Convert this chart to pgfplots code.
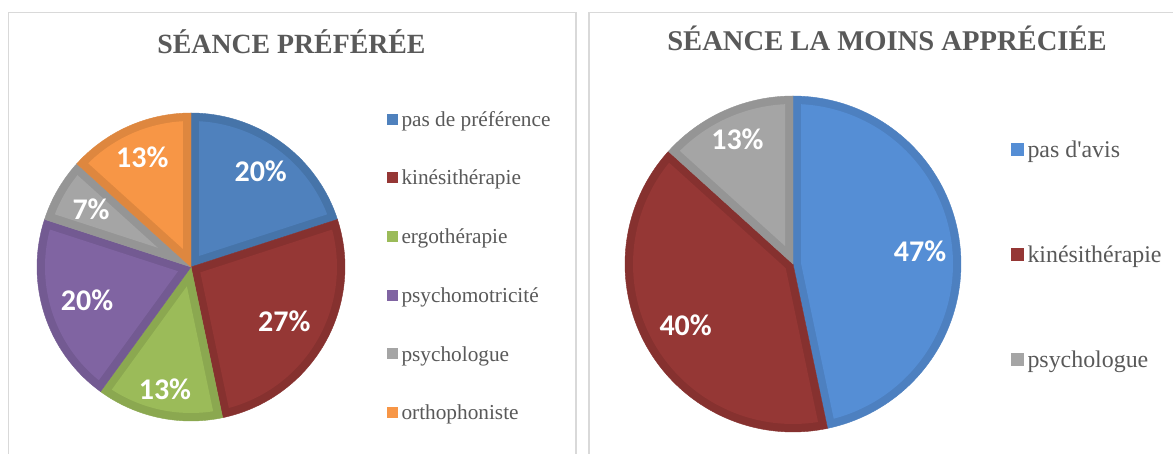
\documentclass[border=0pt]{standalone}
\usepackage{fontspec}
\setmainfont{Liberation Serif}
\newfontfamily\lblfont{Carlito}
\usepackage{pgfplots}
\pgfplotsset{compat=1.18}

\definecolor{txtgray}{HTML}{595959}
\definecolor{framegray}{HTML}{D9D9D9}
\definecolor{pblue}{HTML}{4F81BD}\definecolor{pblueD}{HTML}{4674A9}
\definecolor{pred}{HTML}{953735}\definecolor{predD}{HTML}{86312F}
\definecolor{pgreen}{HTML}{9BBB59}\definecolor{pgreenD}{HTML}{8BA850}
\definecolor{ppurple}{HTML}{8064A2}\definecolor{ppurpleD}{HTML}{735A92}
\definecolor{pgray}{HTML}{A5A5A5}\definecolor{pgrayD}{HTML}{959595}
\definecolor{porange}{HTML}{F79646}\definecolor{porangeD}{HTML}{DE873F}
\definecolor{qblue}{HTML}{558ED5}\definecolor{qblueD}{HTML}{4D80C0}

% running total of the pie, in percent
\gdef\cum{0}
\newcommand\band{0.052}
% value (%), fill, band colour, label, label radius
\newcommand\slice[5]{%
  \pgfmathsetmacro\aS{90-3.6*\cum}%
  \pgfmathsetmacro\newcum{\cum+#1}%
  \xdef\cum{\newcum}%
  \pgfmathsetmacro\aE{90-3.6*\cum}%
  \pgfmathsetmacro\rr{1-\band}%
  \pgfmathsetmacro\da{asin(\band/\rr)}%
  \pgfmathsetmacro\dS{\aS-\da}%
  \pgfmathsetmacro\dE{\aE+\da}%
  \pgfmathsetmacro\am{(\aS+\aE)/2}%
  \pgfmathsetmacro\ap{\band/sin((\aS-\aE)/2)}%
  \pgfmathsetmacro\apx{\ap*cos(\am)}%
  \pgfmathsetmacro\apy{\ap*sin(\am)}%
  \pgfmathsetmacro\lx{#5*cos(\am)}%
  \pgfmathsetmacro\ly{#5*sin(\am)}%
  \edef\doit{%
    \noexpand\addplot[fill=#3, draw=#3, line width=0.4pt, domain=\aE:\aS, samples=90, forget plot]
      ({cos(x)}, {sin(x)}) -- (0,0) -- cycle;
    \noexpand\addplot[fill=#2, draw=none, domain=\dE:\dS, samples=90, forget plot]
      ({\rr*cos(x)}, {\rr*sin(x)}) -- (\apx,\apy) -- cycle;
    \noexpand\addplot[only marks, mark=*, mark size=0pt, mark options={draw=none,fill=none},
      nodes near coords={\unexpanded{#4}}, nodes near coords align={anchor=center}, forget plot]
      coordinates {(\lx,\ly)};
  }%
  \doit
}

\pgfplotsset{
  pie/.style={
    scale only axis, anchor=center,
    xmin=-1, xmax=1, ymin=-1, ymax=1,
    hide axis, clip=false,
    every node near coord/.style={font=\lblfont\fontsize{30}{30}\selectfont\bfseries, text=white, anchor=center},
    legend cell align=left,
  },
}

\begin{document}
\begin{tikzpicture}
\useasboundingbox (0,0) rectangle (1173pt,454pt);
\fill[white] (0,0) rectangle (1173pt,454pt);
\draw[framegray, line width=1.6pt] (8.5pt,-10pt) rectangle (576pt,441.5pt);
\draw[framegray, line width=1.6pt] (589pt,-10pt) rectangle (1190pt,441.5pt);

% séance préférée
\begin{axis}[pie,
  at={(191pt,187pt)}, width=308pt, height=308pt,
  title={SÉANCE PRÉFÉRÉE},
  title style={at={(0.8263,1.1721)}, anchor=base,
    font=\fontsize{27.8}{30}\selectfont\bfseries, text=txtgray},
  legend style={at={(1.1364,1.0188)}, anchor=north west, draw=none, fill=none,
    inner sep=0pt, outer sep=0pt, row sep=35.1pt,
    font=\fontsize{21.3}{24}\selectfont,
    nodes={inner sep=0pt, inner xsep=3.5pt, text height=19pt, text depth=4.6pt, text=txtgray}},
  legend image code/.code={\fill[#1, draw=none] (0pt,-5.5pt) rectangle (11pt,5.5pt);},
]
\renewcommand\band{0.052}
\gdef\cum{0}
\slice{20.0}{pblue}{pblueD}{20\%}{0.77}
\slice{26.7}{pred}{predD}{27\%}{0.70}
\slice{13.3}{pgreen}{pgreenD}{13\%}{0.81}
\slice{20.0}{ppurple}{ppurpleD}{20\%}{0.71}
\slice{6.7}{pgray}{pgrayD}{7\%}{0.75}
\slice{13.3}{porange}{porangeD}{13\%}{0.78}
\addlegendimage{fill=pblue}\addlegendentry{pas de préférence}
\addlegendimage{fill=pred}\addlegendentry{kinésithérapie}
\addlegendimage{fill=pgreen}\addlegendentry{ergothérapie}
\addlegendimage{fill=ppurple}\addlegendentry{psychomotricité}
\addlegendimage{fill=pgray}\addlegendentry{psychologue}
\addlegendimage{fill=porange}\addlegendentry{orthophoniste}
\end{axis}

% séance la moins appréciée
\begin{axis}[pie,
  at={(793pt,190pt)}, width=336pt, height=336pt,
  title={SÉANCE LA MOINS APPRÉCIÉE},
  title style={at={(0.7798,1.1161)}, anchor=base,
    font=\fontsize{28.6}{31}\selectfont\bfseries, text=txtgray},
  legend style={at={(1.1488,0.8802)}, anchor=north west, draw=none, fill=none,
    inner sep=0pt, outer sep=0pt, row sep=78.5pt,
    font=\fontsize{23.9}{26}\selectfont,
    nodes={inner sep=0pt, inner xsep=3.5pt, text height=21.3pt, text depth=5.2pt, text=txtgray}},
  legend image code/.code={\fill[#1, draw=none] (0pt,-6.5pt) rectangle (13pt,6.5pt);},
]
\renewcommand\band{0.0476}
\gdef\cum{0}
\slice{46.7}{qblue}{qblueD}{47\%}{0.76}
\slice{40.0}{pred}{predD}{40\%}{0.737}
\slice{13.3}{pgray}{pgrayD}{13\%}{0.815}
\addlegendimage{fill=qblue}\addlegendentry{pas d\textquotesingle avis}
\addlegendimage{fill=pred}\addlegendentry{kinésithérapie}
\addlegendimage{fill=pgray}\addlegendentry{psychologue}
\end{axis}
\end{tikzpicture}
\end{document}
